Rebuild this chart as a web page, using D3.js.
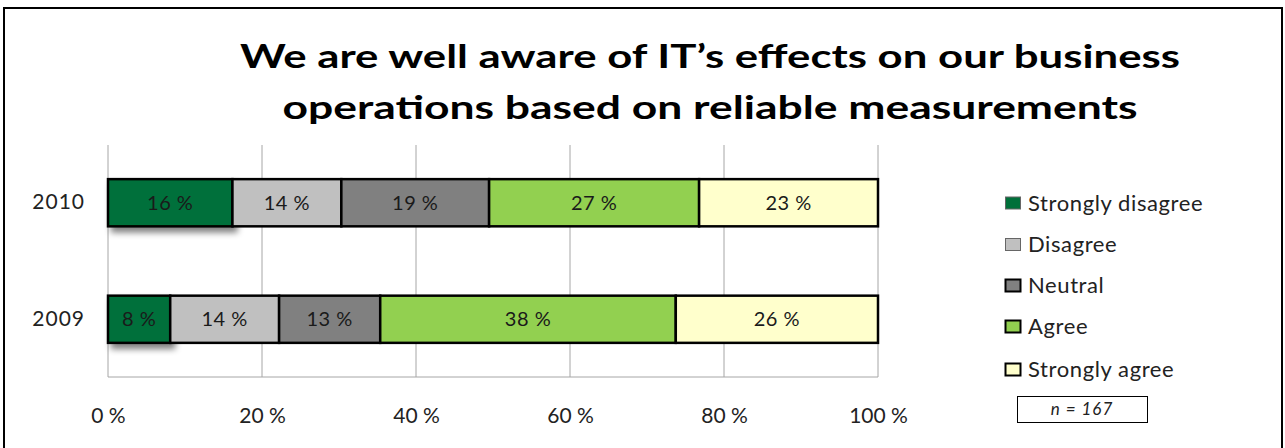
<!DOCTYPE html>
<html>
<head>
<meta charset="utf-8">
<script src="https://cdn.jsdelivr.net/npm/d3@7"></script>
<style>
  html, body { margin: 0; padding: 0; background: #fff; }
  svg { display: block; font-family: Lato, "Open Sans", sans-serif; }
</style>
</head>
<body>
<svg id="chart" width="1285" height="448"></svg>
<script>
// Survey responses per year (percent of respondents)
const years = ["2010", "2009"];
const responses = ["Strongly disagree", "Disagree", "Neutral", "Agree", "Strongly agree"];
const values2010 = [16, 14, 19, 27, 23];
const values2009 = [8, 14, 13, 38, 26];
const tickValues = [0, 20, 40, 60, 80, 100];
const tickLabels = ["0 %", "20 %", "40 %", "60 %", "80 %", "100 %"];
const colors = ["#00703a", "#c0c0c0", "#808080", "#92d050", "#ffffcc"];
const titleLines = ["We are well aware of IT’s effects on our business",
                    "operations based on reliable measurements"];
const sampleNote = "n = 167";

const seriesByYear = { "2010": values2010, "2009": values2009 };

const svg = d3.select("#chart");

// outer frame
svg.append("rect")
  .attr("x", 4).attr("y", 8).attr("width", 1278).attr("height", 450)
  .attr("fill", "#fff").attr("stroke", "#000").attr("stroke-width", 2);

// soft drop shadow used on the darkest series
const defs = svg.append("defs");
const f = defs.append("filter").attr("id", "shadow")
  .attr("x", "-20%").attr("y", "-30%").attr("width", "150%").attr("height", "180%");
f.append("feGaussianBlur").attr("in", "SourceAlpha").attr("stdDeviation", 3).attr("result", "b");
f.append("feOffset").attr("in", "b").attr("dx", 4).attr("dy", 5).attr("result", "o");
f.append("feComponentTransfer").attr("in", "o").attr("result", "s")
  .append("feFuncA").attr("type", "linear").attr("slope", 0.5);
const m = f.append("feMerge");
m.append("feMergeNode").attr("in", "s");
m.append("feMergeNode").attr("in", "SourceGraphic");

// title, two centred lines stretched to a fixed width
const titleLayout = [{ y: 68, w: 940 }, { y: 119, w: 855 }];
const title = svg.append("g");
titleLines.forEach((t, i) => {
  title.append("text")
    .attr("x", 710).attr("y", titleLayout[i].y)
    .attr("text-anchor", "middle")
    .attr("font-size", 33).attr("font-weight", 700)
    .attr("textLength", titleLayout[i].w)
    .attr("lengthAdjust", "spacingAndGlyphs")
    .attr("fill", "#000")
    .text(t);
});

// plot area
const plot = { left: 108, right: 878, top: 145, bottom: 377 };
const x = d3.scaleLinear().domain([0, 100]).range([plot.left, plot.right]);
const y = d3.scaleBand().domain(years).range([plot.top, plot.bottom])
  .paddingInner(0.595).paddingOuter(0.293);

// gridlines
svg.append("g")
  .selectAll("line").data(tickValues).join("line")
  .attr("x1", d => x(d)).attr("x2", d => x(d))
  .attr("y1", plot.top).attr("y2", plot.bottom)
  .attr("stroke", "#a6a6a6").attr("stroke-width", 1);
svg.append("line")
  .attr("x1", plot.left).attr("x2", plot.right)
  .attr("y1", plot.bottom).attr("y2", plot.bottom)
  .attr("stroke", "#a6a6a6").attr("stroke-width", 1);

// x axis labels
const xAxis = d3.axisBottom(x).tickValues(tickValues)
  .tickFormat((d, i) => tickLabels[i]).tickSize(0).tickPadding(0);
const gx = svg.append("g").attr("transform", `translate(0,408)`).call(xAxis);
gx.select(".domain").remove();
gx.selectAll("text").attr("font-size", 21).attr("fill", "#222")
  .attr("font-family", "Lato, 'Open Sans', sans-serif");

// y axis labels
const yAxis = d3.axisLeft(y).tickSize(0).tickPadding(0);
const gy = svg.append("g").attr("transform", `translate(85,0)`).call(yAxis);
gy.select(".domain").remove();
gy.selectAll("text").attr("font-size", 21).attr("fill", "#222")
  .attr("letter-spacing", 1)
  .attr("font-family", "Lato, 'Open Sans', sans-serif");

// stacked segments, normalised to 100 %
const rows = years.map(yr => {
  const vals = seriesByYear[yr];
  const total = d3.sum(vals);
  let acc = 0;
  return vals.map((v, i) => {
    const seg = { year: yr, idx: i, value: v, x0: acc / total * 100, x1: (acc + v) / total * 100 };
    acc += v;
    return seg;
  });
});
const segs = rows.flat();

const bars = svg.append("g");
bars.selectAll("rect").data(segs).join("rect")
  .attr("x", d => x(d.x0)).attr("width", d => x(d.x1) - x(d.x0))
  .attr("y", d => y(d.year)).attr("height", y.bandwidth())
  .attr("fill", d => colors[d.idx])
  .attr("stroke", "#000").attr("stroke-width", 2.5)
  .attr("filter", d => d.idx === 0 ? "url(#shadow)" : null);
bars.selectAll("text").data(segs).join("text")
  .attr("x", d => (x(d.x0) + x(d.x1)) / 2)
  .attr("y", d => y(d.year) + y.bandwidth() / 2)
  .attr("dy", "0.36em")
  .attr("text-anchor", "middle")
  .attr("font-size", 20).attr("fill", "#1a1a1a")
  .attr("letter-spacing", 0.5)
  .text(d => `${d.value} %`);

// legend
const legend = svg.append("g").attr("transform", "translate(1005,0)");
const legendY = [203, 244.5, 285.5, 326.5, 369.5];
responses.forEach((r, i) => {
  legend.append("rect")
    .attr("x", 0.5).attr("y", legendY[i] - 6).attr("width", 15).attr("height", 12)
    .attr("fill", colors[i])
    .attr("stroke", i < 2 ? "#666" : "#000").attr("stroke-width", i < 2 ? 1 : 2);
  legend.append("text")
    .attr("x", 23).attr("y", legendY[i]).attr("dy", "0.36em")
    .attr("font-size", 22).attr("fill", "#222")
    .attr("letter-spacing", 0.6)
    .text(r);
});

// sample size note
svg.append("rect")
  .attr("x", 1017.5).attr("y", 396.5).attr("width", 130).attr("height", 26)
  .attr("fill", "#fff").attr("stroke", "#000").attr("stroke-width", 1);
svg.append("text")
  .attr("x", 1082).attr("y", 409).attr("dy", "0.36em")
  .attr("text-anchor", "middle").attr("font-size", 17).attr("font-style", "italic")
  .attr("letter-spacing", 1)
  .attr("fill", "#222")
  .text(sampleNote);
</script>
</body>
</html>
